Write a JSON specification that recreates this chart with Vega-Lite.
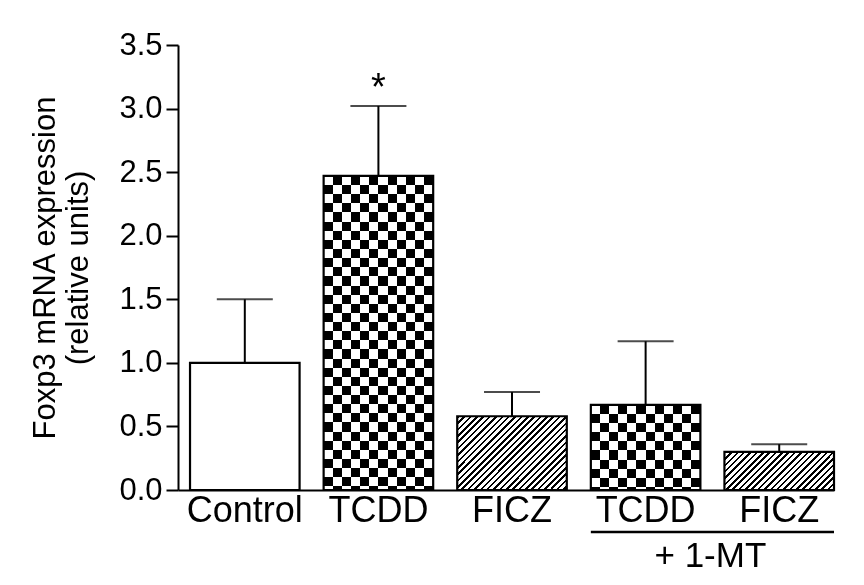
{
  "$schema": "https://vega.github.io/schema/vega-lite/v6.json",
  "width": 656,
  "height": 445,
  "autosize": {"type": "none"},
  "padding": {"left": 178, "top": 45, "right": 30, "bottom": 95},
  "background": "white",
  "config": {"view": {"stroke": null}, "font": "Liberation Sans"},
  "datasets": {
    "bars": [
      {"condition": "Control", "mean": 1.0, "err": 1.50, "sig": ""},
      {"condition": "TCDD", "mean": 2.47, "err": 3.02, "sig": "*"},
      {"condition": "FICZ", "mean": 0.58, "err": 0.77, "sig": ""},
      {"condition": "TCDD + 1-MT", "mean": 0.67, "err": 1.17, "sig": ""},
      {"condition": "FICZ + 1-MT", "mean": 0.30, "err": 0.36, "sig": ""}
    ],
    "note": [
      {"label": "+ 1-MT", "from": "TCDD + 1-MT", "to": "FICZ + 1-MT"}
    ]
  },
  "layer": [
    {
      "data": {"name": "bars"},
      "transform": [{"filter": "datum.condition == 'Control'"}],
      "mark": {"type": "bar", "fill": "white", "strokeWidth": 0},
      "encoding": {
        "x": {
          "field": "condition", "type": "nominal",
          "scale": {"domain": ["Control", "TCDD", "FICZ", "TCDD + 1-MT", "FICZ + 1-MT"], "paddingInner": 0.18, "paddingOuter": 0.045, "align": 1},
          "axis": {"title": null, "labelAngle": 0, "labelExpr": "split(datum.label, ' ')[0]", "ticks": false, "domainColor": "black", "domainWidth": 2, "labelFontSize": 36, "labelColor": "black", "labelPadding": 3, "labelFont": "Liberation Sans"}
        },
        "y": {
          "field": "mean", "type": "quantitative",
          "scale": {"domain": [0, 3.5], "nice": false, "zero": true},
          "axis": {"values": [0, 0.5, 1, 1.5, 2, 2.5, 3, 3.5], "format": ".1f", "grid": false, "tickSize": 12, "tickWidth": 2, "tickColor": "black", "domainWidth": 2, "domainColor": "black", "labelFontSize": 31, "labelPadding": 4, "labelColor": "black", "labelFont": "Liberation Sans", "title": ["Foxp3 mRNA expression", "(relative units)"], "titleFontSize": 31, "titleFontWeight": "normal", "titleFont": "Liberation Sans", "titleColor": "black", "titlePadding": 24, "titleLineHeight": 33}
        }
      }
    },
    {
      "data": {"name": "bars"},
      "transform": [{"filter": "datum.condition == 'TCDD'"}],
      "mark": {"type": "bar", "strokeWidth": 0, "fill": {"gradient": "linear", "x1": 0, "y1": 0, "x2": 0, "y2": 1.163, "stops": [
        {"offset": 0, "color": "black"}, {"offset": 0.025, "color": "black"},
        {"offset": 0.025, "color": "white"}, {"offset": 0.05, "color": "white"},
        {"offset": 0.05, "color": "black"}, {"offset": 0.075, "color": "black"},
        {"offset": 0.075, "color": "white"}, {"offset": 0.1, "color": "white"},
        {"offset": 0.1, "color": "black"}, {"offset": 0.125, "color": "black"},
        {"offset": 0.125, "color": "white"}, {"offset": 0.15, "color": "white"},
        {"offset": 0.15, "color": "black"}, {"offset": 0.175, "color": "black"},
        {"offset": 0.175, "color": "white"}, {"offset": 0.2, "color": "white"},
        {"offset": 0.2, "color": "black"}, {"offset": 0.225, "color": "black"},
        {"offset": 0.225, "color": "white"}, {"offset": 0.25, "color": "white"},
        {"offset": 0.25, "color": "black"}, {"offset": 0.275, "color": "black"},
        {"offset": 0.275, "color": "white"}, {"offset": 0.3, "color": "white"},
        {"offset": 0.3, "color": "black"}, {"offset": 0.325, "color": "black"},
        {"offset": 0.325, "color": "white"}, {"offset": 0.35, "color": "white"},
        {"offset": 0.35, "color": "black"}, {"offset": 0.375, "color": "black"},
        {"offset": 0.375, "color": "white"}, {"offset": 0.4, "color": "white"},
        {"offset": 0.4, "color": "black"}, {"offset": 0.425, "color": "black"},
        {"offset": 0.425, "color": "white"}, {"offset": 0.45, "color": "white"},
        {"offset": 0.45, "color": "black"}, {"offset": 0.475, "color": "black"},
        {"offset": 0.475, "color": "white"}, {"offset": 0.5, "color": "white"},
        {"offset": 0.5, "color": "black"}, {"offset": 0.525, "color": "black"},
        {"offset": 0.525, "color": "white"}, {"offset": 0.55, "color": "white"},
        {"offset": 0.55, "color": "black"}, {"offset": 0.575, "color": "black"},
        {"offset": 0.575, "color": "white"}, {"offset": 0.6, "color": "white"},
        {"offset": 0.6, "color": "black"}, {"offset": 0.625, "color": "black"},
        {"offset": 0.625, "color": "white"}, {"offset": 0.65, "color": "white"},
        {"offset": 0.65, "color": "black"}, {"offset": 0.675, "color": "black"},
        {"offset": 0.675, "color": "white"}, {"offset": 0.7, "color": "white"},
        {"offset": 0.7, "color": "black"}, {"offset": 0.725, "color": "black"},
        {"offset": 0.725, "color": "white"}, {"offset": 0.75, "color": "white"},
        {"offset": 0.75, "color": "black"}, {"offset": 0.775, "color": "black"},
        {"offset": 0.775, "color": "white"}, {"offset": 0.8, "color": "white"},
        {"offset": 0.8, "color": "black"}, {"offset": 0.825, "color": "black"},
        {"offset": 0.825, "color": "white"}, {"offset": 0.85, "color": "white"},
        {"offset": 0.85, "color": "black"}, {"offset": 0.875, "color": "black"},
        {"offset": 0.875, "color": "white"}, {"offset": 0.9, "color": "white"},
        {"offset": 0.9, "color": "black"}, {"offset": 0.925, "color": "black"},
        {"offset": 0.925, "color": "white"}, {"offset": 0.95, "color": "white"},
        {"offset": 0.95, "color": "black"}, {"offset": 0.975, "color": "black"},
        {"offset": 0.975, "color": "white"}, {"offset": 1, "color": "white"}
      ]}},
      "encoding": {"x": {"field": "condition", "type": "nominal"}, "y": {"field": "mean", "type": "quantitative"}}
    },
    {
      "data": {"name": "bars"},
      "transform": [{"filter": "datum.condition == 'TCDD' || datum.condition == 'TCDD + 1-MT'"}],
      "mark": {"type": "bar", "strokeWidth": 0, "blend": "difference", "fill": {"gradient": "linear", "x1": 0, "y1": 0, "x2": 1, "y2": 0, "stops": [
        {"offset": 0, "color": "white"}, {"offset": 0.0833, "color": "white"},
        {"offset": 0.0833, "color": "black"}, {"offset": 0.1667, "color": "black"},
        {"offset": 0.1667, "color": "white"}, {"offset": 0.25, "color": "white"},
        {"offset": 0.25, "color": "black"}, {"offset": 0.3333, "color": "black"},
        {"offset": 0.3333, "color": "white"}, {"offset": 0.4167, "color": "white"},
        {"offset": 0.4167, "color": "black"}, {"offset": 0.5, "color": "black"},
        {"offset": 0.5, "color": "white"}, {"offset": 0.5833, "color": "white"},
        {"offset": 0.5833, "color": "black"}, {"offset": 0.6667, "color": "black"},
        {"offset": 0.6667, "color": "white"}, {"offset": 0.75, "color": "white"},
        {"offset": 0.75, "color": "black"}, {"offset": 0.8333, "color": "black"},
        {"offset": 0.8333, "color": "white"}, {"offset": 0.9167, "color": "white"},
        {"offset": 0.9167, "color": "black"}, {"offset": 1, "color": "black"}
      ]}},
      "encoding": {"x": {"field": "condition", "type": "nominal"}, "y": {"field": "mean", "type": "quantitative"}}
    },
    {
      "data": {"name": "bars"},
      "transform": [{"filter": "datum.condition == 'TCDD + 1-MT'"}],
      "mark": {"type": "bar", "strokeWidth": 0, "fill": {"gradient": "linear", "x1": 0, "y1": 0, "x2": 0, "y2": 4.287, "stops": [
        {"offset": 0, "color": "black"}, {"offset": 0.025, "color": "black"},
        {"offset": 0.025, "color": "white"}, {"offset": 0.05, "color": "white"},
        {"offset": 0.05, "color": "black"}, {"offset": 0.075, "color": "black"},
        {"offset": 0.075, "color": "white"}, {"offset": 0.1, "color": "white"},
        {"offset": 0.1, "color": "black"}, {"offset": 0.125, "color": "black"},
        {"offset": 0.125, "color": "white"}, {"offset": 0.15, "color": "white"},
        {"offset": 0.15, "color": "black"}, {"offset": 0.175, "color": "black"},
        {"offset": 0.175, "color": "white"}, {"offset": 0.2, "color": "white"},
        {"offset": 0.2, "color": "black"}, {"offset": 0.225, "color": "black"},
        {"offset": 0.225, "color": "white"}, {"offset": 0.25, "color": "white"},
        {"offset": 0.25, "color": "black"}, {"offset": 0.275, "color": "black"},
        {"offset": 0.275, "color": "white"}, {"offset": 1, "color": "white"}
      ]}},
      "encoding": {"x": {"field": "condition", "type": "nominal"}, "y": {"field": "mean", "type": "quantitative"}}
    },
    {
      "data": {"name": "bars"},
      "transform": [{"filter": "datum.condition == 'TCDD + 1-MT'"}],
      "mark": {"type": "bar", "strokeWidth": 0, "blend": "difference", "fill": {"gradient": "linear", "x1": 0, "y1": 0, "x2": 1, "y2": 0, "stops": [
        {"offset": 0, "color": "white"}, {"offset": 0.0833, "color": "white"},
        {"offset": 0.0833, "color": "black"}, {"offset": 0.1667, "color": "black"},
        {"offset": 0.1667, "color": "white"}, {"offset": 0.25, "color": "white"},
        {"offset": 0.25, "color": "black"}, {"offset": 0.3333, "color": "black"},
        {"offset": 0.3333, "color": "white"}, {"offset": 0.4167, "color": "white"},
        {"offset": 0.4167, "color": "black"}, {"offset": 0.5, "color": "black"},
        {"offset": 0.5, "color": "white"}, {"offset": 0.5833, "color": "white"},
        {"offset": 0.5833, "color": "black"}, {"offset": 0.6667, "color": "black"},
        {"offset": 0.6667, "color": "white"}, {"offset": 0.75, "color": "white"},
        {"offset": 0.75, "color": "black"}, {"offset": 0.8333, "color": "black"},
        {"offset": 0.8333, "color": "white"}, {"offset": 0.9167, "color": "white"},
        {"offset": 0.9167, "color": "black"}, {"offset": 1, "color": "black"}
      ]}},
      "encoding": {"x": {"field": "condition", "type": "nominal"}, "y": {"field": "mean", "type": "quantitative"}}
    },
    {
      "data": {"name": "bars"},
      "transform": [{"filter": "datum.condition == 'FICZ'"}],
      "mark": {"type": "bar", "strokeWidth": 0, "fill": {"gradient": "linear", "x1": 0, "y1": 0, "x2": 2.0, "y2": 1.344, "stops": [
        {"offset": 0, "color": "black"}, {"offset": 0.008, "color": "black"}, {"offset": 0.008, "color": "white"}, {"offset": 0.02, "color": "white"},
        {"offset": 0.02, "color": "black"}, {"offset": 0.028, "color": "black"}, {"offset": 0.028, "color": "white"}, {"offset": 0.04, "color": "white"},
        {"offset": 0.04, "color": "black"}, {"offset": 0.048, "color": "black"}, {"offset": 0.048, "color": "white"}, {"offset": 0.06, "color": "white"},
        {"offset": 0.06, "color": "black"}, {"offset": 0.068, "color": "black"}, {"offset": 0.068, "color": "white"}, {"offset": 0.08, "color": "white"},
        {"offset": 0.08, "color": "black"}, {"offset": 0.088, "color": "black"}, {"offset": 0.088, "color": "white"}, {"offset": 0.1, "color": "white"},
        {"offset": 0.1, "color": "black"}, {"offset": 0.108, "color": "black"}, {"offset": 0.108, "color": "white"}, {"offset": 0.12, "color": "white"},
        {"offset": 0.12, "color": "black"}, {"offset": 0.128, "color": "black"}, {"offset": 0.128, "color": "white"}, {"offset": 0.14, "color": "white"},
        {"offset": 0.14, "color": "black"}, {"offset": 0.148, "color": "black"}, {"offset": 0.148, "color": "white"}, {"offset": 0.16, "color": "white"},
        {"offset": 0.16, "color": "black"}, {"offset": 0.168, "color": "black"}, {"offset": 0.168, "color": "white"}, {"offset": 0.18, "color": "white"},
        {"offset": 0.18, "color": "black"}, {"offset": 0.188, "color": "black"}, {"offset": 0.188, "color": "white"}, {"offset": 0.2, "color": "white"},
        {"offset": 0.2, "color": "black"}, {"offset": 0.208, "color": "black"}, {"offset": 0.208, "color": "white"}, {"offset": 0.22, "color": "white"},
        {"offset": 0.22, "color": "black"}, {"offset": 0.228, "color": "black"}, {"offset": 0.228, "color": "white"}, {"offset": 0.24, "color": "white"},
        {"offset": 0.24, "color": "black"}, {"offset": 0.248, "color": "black"}, {"offset": 0.248, "color": "white"}, {"offset": 0.26, "color": "white"},
        {"offset": 0.26, "color": "black"}, {"offset": 0.268, "color": "black"}, {"offset": 0.268, "color": "white"}, {"offset": 0.28, "color": "white"},
        {"offset": 0.28, "color": "black"}, {"offset": 0.288, "color": "black"}, {"offset": 0.288, "color": "white"}, {"offset": 0.3, "color": "white"},
        {"offset": 0.3, "color": "black"}, {"offset": 0.308, "color": "black"}, {"offset": 0.308, "color": "white"}, {"offset": 0.32, "color": "white"},
        {"offset": 0.32, "color": "black"}, {"offset": 0.328, "color": "black"}, {"offset": 0.328, "color": "white"}, {"offset": 0.34, "color": "white"},
        {"offset": 0.34, "color": "black"}, {"offset": 0.348, "color": "black"}, {"offset": 0.348, "color": "white"}, {"offset": 0.36, "color": "white"},
        {"offset": 0.36, "color": "black"}, {"offset": 0.368, "color": "black"}, {"offset": 0.368, "color": "white"}, {"offset": 0.38, "color": "white"},
        {"offset": 0.38, "color": "black"}, {"offset": 0.388, "color": "black"}, {"offset": 0.388, "color": "white"}, {"offset": 0.4, "color": "white"},
        {"offset": 0.4, "color": "black"}, {"offset": 0.408, "color": "black"}, {"offset": 0.408, "color": "white"}, {"offset": 0.42, "color": "white"},
        {"offset": 0.42, "color": "black"}, {"offset": 0.428, "color": "black"}, {"offset": 0.428, "color": "white"}, {"offset": 0.44, "color": "white"},
        {"offset": 0.44, "color": "black"}, {"offset": 0.448, "color": "black"}, {"offset": 0.448, "color": "white"}, {"offset": 0.46, "color": "white"},
        {"offset": 0.46, "color": "black"}, {"offset": 0.468, "color": "black"}, {"offset": 0.468, "color": "white"}, {"offset": 0.48, "color": "white"},
        {"offset": 0.48, "color": "black"}, {"offset": 0.488, "color": "black"}, {"offset": 0.488, "color": "white"}, {"offset": 0.5, "color": "white"},
        {"offset": 0.5, "color": "black"}, {"offset": 0.508, "color": "black"}, {"offset": 0.508, "color": "white"}, {"offset": 0.52, "color": "white"},
        {"offset": 0.52, "color": "black"}, {"offset": 0.528, "color": "black"}, {"offset": 0.528, "color": "white"}, {"offset": 0.54, "color": "white"},
        {"offset": 0.54, "color": "black"}, {"offset": 0.548, "color": "black"}, {"offset": 0.548, "color": "white"}, {"offset": 0.56, "color": "white"},
        {"offset": 0.56, "color": "black"}, {"offset": 0.568, "color": "black"}, {"offset": 0.568, "color": "white"}, {"offset": 0.58, "color": "white"},
        {"offset": 0.58, "color": "black"}, {"offset": 0.588, "color": "black"}, {"offset": 0.588, "color": "white"}, {"offset": 1, "color": "white"}
      ]}},
      "encoding": {"x": {"field": "condition", "type": "nominal"}, "y": {"field": "mean", "type": "quantitative"}}
    },
    {
      "data": {"name": "bars"},
      "transform": [{"filter": "datum.condition == 'FICZ + 1-MT'"}],
      "mark": {"type": "bar", "strokeWidth": 0, "fill": {"gradient": "linear", "x1": 0, "y1": 0, "x2": 2.59, "y2": 0.901, "stops": [
        {"offset": 0, "color": "black"}, {"offset": 0.008, "color": "black"}, {"offset": 0.008, "color": "white"}, {"offset": 0.02, "color": "white"},
        {"offset": 0.02, "color": "black"}, {"offset": 0.028, "color": "black"}, {"offset": 0.028, "color": "white"}, {"offset": 0.04, "color": "white"},
        {"offset": 0.04, "color": "black"}, {"offset": 0.048, "color": "black"}, {"offset": 0.048, "color": "white"}, {"offset": 0.06, "color": "white"},
        {"offset": 0.06, "color": "black"}, {"offset": 0.068, "color": "black"}, {"offset": 0.068, "color": "white"}, {"offset": 0.08, "color": "white"},
        {"offset": 0.08, "color": "black"}, {"offset": 0.088, "color": "black"}, {"offset": 0.088, "color": "white"}, {"offset": 0.1, "color": "white"},
        {"offset": 0.1, "color": "black"}, {"offset": 0.108, "color": "black"}, {"offset": 0.108, "color": "white"}, {"offset": 0.12, "color": "white"},
        {"offset": 0.12, "color": "black"}, {"offset": 0.128, "color": "black"}, {"offset": 0.128, "color": "white"}, {"offset": 0.14, "color": "white"},
        {"offset": 0.14, "color": "black"}, {"offset": 0.148, "color": "black"}, {"offset": 0.148, "color": "white"}, {"offset": 0.16, "color": "white"},
        {"offset": 0.16, "color": "black"}, {"offset": 0.168, "color": "black"}, {"offset": 0.168, "color": "white"}, {"offset": 0.18, "color": "white"},
        {"offset": 0.18, "color": "black"}, {"offset": 0.188, "color": "black"}, {"offset": 0.188, "color": "white"}, {"offset": 0.2, "color": "white"},
        {"offset": 0.2, "color": "black"}, {"offset": 0.208, "color": "black"}, {"offset": 0.208, "color": "white"}, {"offset": 0.22, "color": "white"},
        {"offset": 0.22, "color": "black"}, {"offset": 0.228, "color": "black"}, {"offset": 0.228, "color": "white"}, {"offset": 0.24, "color": "white"},
        {"offset": 0.24, "color": "black"}, {"offset": 0.248, "color": "black"}, {"offset": 0.248, "color": "white"}, {"offset": 0.26, "color": "white"},
        {"offset": 0.26, "color": "black"}, {"offset": 0.268, "color": "black"}, {"offset": 0.268, "color": "white"}, {"offset": 0.28, "color": "white"},
        {"offset": 0.28, "color": "black"}, {"offset": 0.288, "color": "black"}, {"offset": 0.288, "color": "white"}, {"offset": 0.3, "color": "white"},
        {"offset": 0.3, "color": "black"}, {"offset": 0.308, "color": "black"}, {"offset": 0.308, "color": "white"}, {"offset": 0.32, "color": "white"},
        {"offset": 0.32, "color": "black"}, {"offset": 0.328, "color": "black"}, {"offset": 0.328, "color": "white"}, {"offset": 0.34, "color": "white"},
        {"offset": 0.34, "color": "black"}, {"offset": 0.348, "color": "black"}, {"offset": 0.348, "color": "white"}, {"offset": 0.36, "color": "white"},
        {"offset": 0.36, "color": "black"}, {"offset": 0.368, "color": "black"}, {"offset": 0.368, "color": "white"}, {"offset": 0.38, "color": "white"},
        {"offset": 0.38, "color": "black"}, {"offset": 0.388, "color": "black"}, {"offset": 0.388, "color": "white"}, {"offset": 0.4, "color": "white"},
        {"offset": 0.4, "color": "black"}, {"offset": 0.408, "color": "black"}, {"offset": 0.408, "color": "white"}, {"offset": 0.42, "color": "white"},
        {"offset": 0.42, "color": "black"}, {"offset": 0.428, "color": "black"}, {"offset": 0.428, "color": "white"}, {"offset": 0.44, "color": "white"},
        {"offset": 0.44, "color": "black"}, {"offset": 0.448, "color": "black"}, {"offset": 0.448, "color": "white"}, {"offset": 0.46, "color": "white"},
        {"offset": 0.46, "color": "black"}, {"offset": 0.468, "color": "black"}, {"offset": 0.468, "color": "white"}, {"offset": 1, "color": "white"}
      ]}},
      "encoding": {"x": {"field": "condition", "type": "nominal"}, "y": {"field": "mean", "type": "quantitative"}}
    },
    {
      "data": {"name": "bars"},
      "mark": {"type": "bar", "filled": false, "stroke": "black", "strokeWidth": 2.2},
      "encoding": {"x": {"field": "condition", "type": "nominal"}, "y": {"field": "mean", "type": "quantitative"}}
    },
    {
      "data": {"name": "bars"},
      "mark": {"type": "rule", "color": "black", "strokeWidth": 2},
      "encoding": {"x": {"field": "condition", "type": "nominal"}, "y": {"field": "mean", "type": "quantitative"}, "y2": {"field": "err"}}
    },
    {
      "data": {"name": "bars"},
      "mark": {"type": "tick", "color": "black", "size": 56, "thickness": 2},
      "encoding": {"x": {"field": "condition", "type": "nominal"}, "y": {"field": "err", "type": "quantitative"}}
    },
    {
      "data": {"name": "bars"},
      "transform": [{"filter": "datum.sig != ''"}],
      "mark": {"type": "text", "fontSize": 38, "baseline": "alphabetic", "align": "center", "dy": -6, "color": "black", "font": "Liberation Sans"},
      "encoding": {"x": {"field": "condition", "type": "nominal"}, "y": {"field": "err", "type": "quantitative"}, "text": {"field": "sig"}}
    },
    {
      "data": {"name": "note"},
      "mark": {"type": "rule", "color": "black", "strokeWidth": 2.5},
      "encoding": {
        "x": {"field": "from", "type": "nominal", "bandPosition": 0},
        "x2": {"field": "to", "bandPosition": 1},
        "y": {"datum": -0.33, "type": "quantitative"}
      }
    },
    {
      "data": {"name": "note"},
      "mark": {"type": "text", "fontSize": 35, "baseline": "alphabetic", "align": "center", "dx": 10, "color": "black", "font": "Liberation Sans"},
      "encoding": {
        "x": {"field": "from", "type": "nominal", "bandPosition": 1},
        "y": {"datum": -0.606, "type": "quantitative"},
        "text": {"field": "label"}
      }
    }
  ]
}
